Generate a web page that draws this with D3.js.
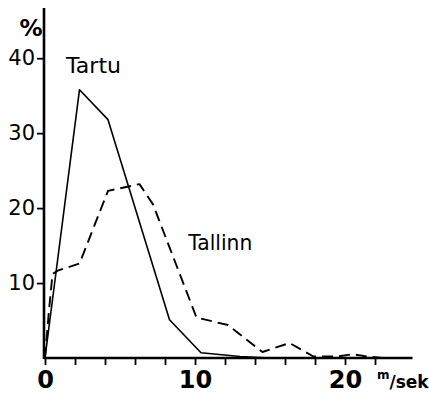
<!DOCTYPE html>
<html>
<head>
<meta charset="utf-8">
<script src="https://cdn.jsdelivr.net/npm/d3@7"></script>
<style>
  html, body { margin: 0; padding: 0; background: #fff; }
  svg { display: block; }
  text { font-family: "DejaVu Sans", sans-serif; fill: #000; }
</style>
</head>
<body>
<svg id="chart" width="429" height="396"></svg>
<script>
// ---- data ----
const tartu = [[0,0],[2.3,35.8],[4.2,31.8],[8.3,5.1],[10.4,0.7],[13,0.2],[15,0]];
const tallinn = [[0,0],[0.25,6],[0.5,11.2],[0.9,11.7],[2.3,12.6],[4.2,22.3],[6.3,23.2],[7.2,20.5],[10.1,5.4],[12.2,4.4],[14.5,0.8],[16.3,2.0],[17.9,0.2],[19.5,0.2],[20.5,0.5],[21.5,0.2],[22.5,0]];
const xTicks = [0,2,4,6,8,10,12,14,16,18,20,22];
const xTickLabels = [0,10,20];
const yTicks = [10,20,30,40];
const seriesLabels = [
  {name:"Tartu", x:1.4, y:38.0, len:55},
  {name:"Tallinn", x:9.55, y:14.4, len:64}
];

// ---- layout ----
const svg = d3.select("#chart");
const x = d3.scaleLinear().domain([0, 24.5]).range([45, 412.5]);
const y = d3.scaleLinear().domain([0, 46.7]).range([358, 8]);

// axes
const xAxis = d3.axisBottom(x).tickValues(xTicks).tickSize(7).tickPadding(6)
  .tickFormat(d => xTickLabels.includes(d) ? d : "");
const gx = svg.append("g").attr("transform", `translate(0,${y(0)})`).call(xAxis);
gx.select(".domain").attr("d", `M${x(0)-1},0H${x(24.5)}`).attr("stroke-width", 2.6);
gx.selectAll(".tick line").attr("stroke-width", 1.8);
gx.selectAll(".tick text").attr("font-size", 24).attr("font-weight", "bold").attr("fill", "#000");

const yAxis = d3.axisLeft(y).tickValues(yTicks).tickSize(7).tickPadding(2);
const gy = svg.append("g").attr("transform", `translate(${x(0)-1},0)`).call(yAxis);
gy.select(".domain").attr("d", `M0,${y(0)+1}V${y(46.7)}`).attr("stroke-width", 2.6);
gy.selectAll(".tick line").attr("stroke-width", 1.8);
gy.selectAll(".tick text").attr("font-size", 21).attr("fill", "#000");

// units
svg.append("text").attr("x", 31).attr("y", 36).attr("text-anchor", "middle")
  .attr("font-size", 23).attr("font-weight", "bold").text("%");
const unit = svg.append("text").attr("x", 377).attr("y", 388).attr("font-weight", "bold");
unit.append("tspan").attr("font-size", 12).attr("dy", -9).text("m");
unit.append("tspan").attr("font-size", 17).attr("dy", 9).text("/sek");

// lines
const line = d3.line().x(d => x(d[0])).y(d => y(d[1]));
svg.append("path").datum(tartu).attr("d", line)
  .attr("fill", "none").attr("stroke", "#000").attr("stroke-width", 1.6)
  .attr("stroke-linejoin", "round");
svg.append("path").datum(tallinn).attr("d", line)
  .attr("fill", "none").attr("stroke", "#000").attr("stroke-width", 1.9)
  .attr("stroke-dasharray", "11,6").attr("stroke-linejoin", "round");

// labels
svg.selectAll("text.series").data(seriesLabels).enter().append("text")
  .attr("class", "series")
  .attr("x", d => x(d.x)).attr("y", d => y(d.y))
  .attr("font-size", 21)
  .attr("textLength", d => d.len).attr("lengthAdjust", "spacingAndGlyphs")
  .text(d => d.name);
</script>
</body>
</html>
